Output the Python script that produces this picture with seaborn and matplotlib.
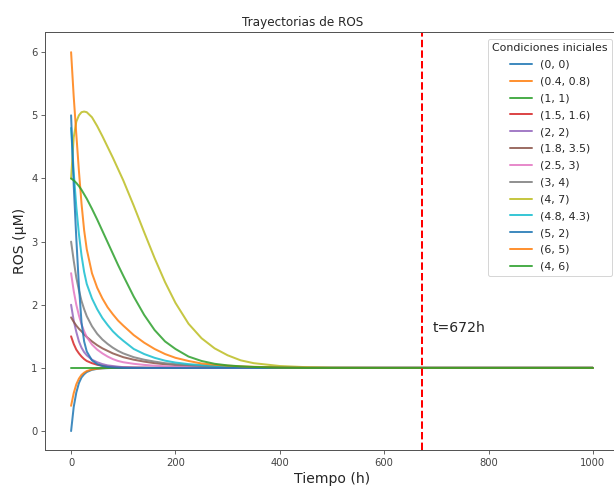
import numpy as np
import pandas as pd
import matplotlib
matplotlib.use("Agg")
import matplotlib.pyplot as plt
import seaborn as sns

tiempo = [0, 5, 10, 15, 20, 25, 30, 40, 50, 60, 70, 80, 90, 100, 120, 140, 160, 180,
          200, 225, 250, 275, 300, 325, 350, 400, 450, 500, 600, 1000]

condiciones = ["(0, 0)", "(0.4, 0.8)", "(1, 1)", "(1.5, 1.6)", "(2, 2)", "(1.8, 3.5)",
               "(2.5, 3)", "(3, 4)", "(4, 7)", "(4.8, 4.3)", "(5, 2)", "(6, 5)", "(4, 6)"]

ros_0_0 = [0.0, 0.38, 0.61, 0.76, 0.85, 0.9, 0.935, 0.97, 0.985, 0.993, 0.997, 1.0, 1.0, 1.0,
           1.0, 1.0, 1.0, 1.0, 1.0, 1.0, 1.0, 1.0, 1.0, 1.0, 1.0, 1.0, 1.0, 1.0, 1.0, 1.0]
ros_04_08 = [0.4, 0.6, 0.74, 0.83, 0.89, 0.925, 0.95, 0.975, 0.988, 0.995, 1.0, 1.0, 1.0, 1.0,
             1.0, 1.0, 1.0, 1.0, 1.0, 1.0, 1.0, 1.0, 1.0, 1.0, 1.0, 1.0, 1.0, 1.0, 1.0, 1.0]
ros_1_1 = [1.0, 1.0, 1.0, 1.0, 1.0, 1.0, 1.0, 1.0, 1.0, 1.0, 1.0, 1.0, 1.0, 1.0, 1.0,
           1.0, 1.0, 1.0, 1.0, 1.0, 1.0, 1.0, 1.0, 1.0, 1.0, 1.0, 1.0, 1.0, 1.0, 1.0]
ros_15_16 = [1.5, 1.38, 1.29, 1.23, 1.18, 1.14, 1.11, 1.075, 1.05, 1.035, 1.025, 1.017, 1.012,
             1.008, 1.004, 1.002, 1.0, 1.0, 1.0, 1.0, 1.0, 1.0, 1.0, 1.0, 1.0, 1.0, 1.0, 1.0,
             1.0, 1.0]
ros_2_2 = [2.0, 1.75, 1.57, 1.42, 1.32, 1.25, 1.2, 1.13, 1.09, 1.06, 1.04, 1.03, 1.02, 1.012,
           1.006, 1.003, 1.0, 1.0, 1.0, 1.0, 1.0, 1.0, 1.0, 1.0, 1.0, 1.0, 1.0, 1.0, 1.0, 1.0]
ros_18_35 = [1.8, 1.73, 1.67, 1.62, 1.58, 1.53, 1.49, 1.42, 1.36, 1.31, 1.27, 1.23, 1.2, 1.17,
             1.13, 1.1, 1.075, 1.058, 1.045, 1.033, 1.024, 1.017, 1.012, 1.009, 1.006, 1.003,
             1.0, 1.0, 1.0, 1.0]
ros_25_3 = [2.5, 2.22, 2.0, 1.83, 1.69, 1.58, 1.49, 1.37, 1.29, 1.23, 1.18, 1.14, 1.11, 1.09,
            1.065, 1.048, 1.035, 1.026, 1.019, 1.013, 1.009, 1.006, 1.004, 1.002, 1.0, 1.0,
            1.0, 1.0, 1.0, 1.0]
ros_3_4 = [3.0, 2.7, 2.43, 2.23, 2.06, 1.93, 1.82, 1.66, 1.54, 1.45, 1.38, 1.32, 1.27, 1.23,
           1.17, 1.13, 1.1, 1.075, 1.06, 1.045, 1.033, 1.025, 1.018, 1.013, 1.01, 1.005, 1.0,
           1.0, 1.0, 1.0]
ros_4_7 = [4.0, 4.65, 4.9, 5.0, 5.05, 5.06, 5.05, 4.97, 4.83, 4.67, 4.5, 4.33, 4.15, 3.97,
           3.57, 3.15, 2.74, 2.36, 2.03, 1.7, 1.47, 1.31, 1.2, 1.12, 1.075, 1.03, 1.012, 1.004,
           1.0, 1.0]
ros_48_43 = [4.8, 4.1, 3.55, 3.12, 2.78, 2.52, 2.33, 2.1, 1.93, 1.79, 1.68, 1.58, 1.5, 1.43,
             1.3, 1.22, 1.16, 1.115, 1.085, 1.06, 1.045, 1.033, 1.024, 1.017, 1.012, 1.005,
             1.0, 1.0, 1.0, 1.0]
ros_5_2 = [5.0, 3.9, 3.05, 2.3, 1.72, 1.42, 1.26, 1.12, 1.06, 1.03, 1.015, 1.008, 1.004, 1.0,
           1.0, 1.0, 1.0, 1.0, 1.0, 1.0, 1.0, 1.0, 1.0, 1.0, 1.0, 1.0, 1.0, 1.0, 1.0, 1.0]
ros_6_5 = [6.0, 5.3, 4.7, 4.12, 3.6, 3.18, 2.88, 2.5, 2.27, 2.1, 1.96, 1.85, 1.75, 1.67,
           1.52, 1.4, 1.3, 1.22, 1.16, 1.11, 1.07, 1.05, 1.035, 1.025, 1.018, 1.008, 1.003,
           1.0, 1.0, 1.0]
ros_4_6 = [4.0, 3.97, 3.93, 3.88, 3.82, 3.75, 3.68, 3.52, 3.35, 3.17, 2.99, 2.81, 2.63, 2.46,
           2.13, 1.84, 1.6, 1.42, 1.3, 1.18, 1.11, 1.065, 1.04, 1.025, 1.015, 1.005, 1.0,
           1.0, 1.0, 1.0]

series = [ros_0_0, ros_04_08, ros_1_1, ros_15_16, ros_2_2, ros_18_35, ros_25_3,
          ros_3_4, ros_4_7, ros_48_43, ros_5_2, ros_6_5, ros_4_6]

t_marca = 672

rows = []
for cond, vals in zip(condiciones, series):
    for t, v in zip(tiempo, vals):
        rows.append({"Tiempo": t, "ROS": v, "cond": cond})
df = pd.DataFrame(rows)

sns.set_style("ticks")
plt.rcParams["font.family"] = ["DejaVu Sans"]

fig = plt.figure(figsize=(614 / 72, 487 / 72), dpi=72)
ax = fig.add_axes([45 / 614, 1 - 450 / 487, (619 - 45) / 614, (450 - 32) / 487])

tab10 = sns.color_palette("tab10", 10)
palette = [tab10[i % 10] for i in range(len(condiciones))]

sns.lineplot(data=df, x="Tiempo", y="ROS", hue="cond", hue_order=condiciones,
             palette=palette, estimator=None, sort=False, lw=2, alpha=0.85, ax=ax)

ax.axvline(t_marca, color="red", ls="--", lw=2)
ax.text(692, 1.63, f"t={t_marca}h", va="center", ha="left", fontsize=14)

ax.set_xlim(-50, 1050)
ax.set_ylim(-0.3, 6.32)
ax.set_xticks([0, 200, 400, 600, 800, 1000])
ax.set_yticks([0, 1, 2, 3, 4, 5, 6])
ax.tick_params(colors="#444444", labelsize=10, length=4)
for s in ax.spines.values():
    s.set_color("#555555")
    s.set_linewidth(1)

ax.set_xlabel("Tiempo (h)", fontsize=14)
ax.set_ylabel("ROS (µM)", fontsize=14)
ax.set_title("Trayectorias de ROS", fontsize=12, x=0.448)

leg = ax.legend(title="Condiciones iniciales", loc="upper right", fontsize=11,
                title_fontsize=11, borderaxespad=0.6, labelspacing=0.62)
leg.get_frame().set_edgecolor("#cccccc")
for line in leg.get_lines():
    line.set_linewidth(2)

fig.savefig("out.png", dpi=72)
